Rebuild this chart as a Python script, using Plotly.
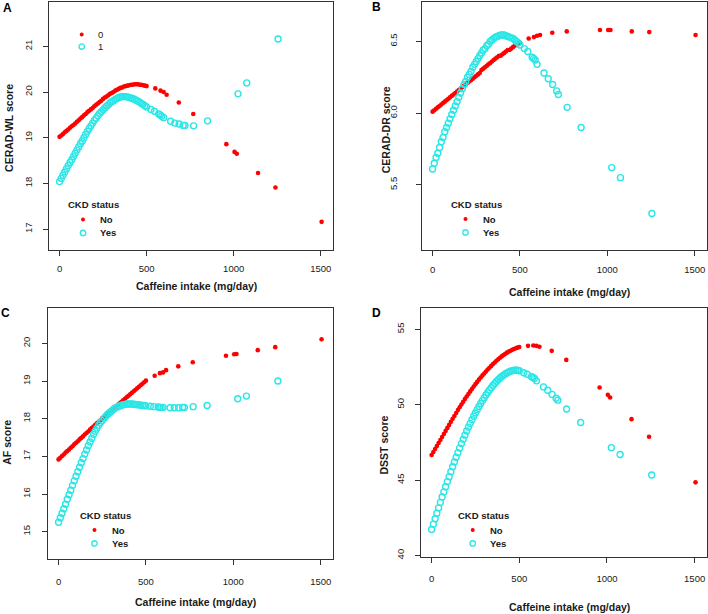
import plotly.graph_objects as go

W, H = 708, 614

# ---------------- data ----------------
dense_x = [0, 10, 20, 30, 40, 50, 60, 70, 80, 90, 100, 110, 120, 130, 140, 150, 160, 170, 180, 190,
           200, 210, 220, 230, 240, 250, 260, 270, 280, 290, 300, 310, 320, 330, 340, 350, 360, 370, 380, 390,
           400, 410, 420, 430, 440, 450, 460, 470, 480, 490, 500]
red_sparse_x = [550, 580, 598, 615, 685, 768, 958, 1005, 1018, 1140, 1240, 1505]
cyan_sparse_x = [525, 545, 570, 578, 587, 598, 638, 662, 687, 710, 720, 770, 850, 1025, 1075, 1255]

# Panel A: CERAD-WL
a_no_dense = [19.02, 19.05, 19.08, 19.12, 19.15, 19.18, 19.22, 19.25, 19.28, 19.31, 19.35, 19.38, 19.42, 19.45,
              19.49, 19.52, 19.56, 19.59, 19.62, 19.65, 19.69, 19.72, 19.75, 19.78, 19.81, 19.85, 19.88, 19.90,
              19.93, 19.96, 19.98, 20.00, 20.03, 20.05, 20.07, 20.09, 20.10, 20.12, 20.13, 20.14, 20.15, 20.16,
              20.16, 20.17, 20.17, 20.17, 20.16, 20.16, 20.15, 20.14, 20.13]
a_no_sparse = [20.08, 20.03, 20.00, 19.94, 19.77, 19.52, 18.86, 18.69, 18.65, 18.23, 17.91, 17.16]
a_yes_dense = [18.04, 18.11, 18.18, 18.25, 18.32, 18.39, 18.46, 18.52, 18.59, 18.66, 18.73, 18.80, 18.87, 18.93,
               19.00, 19.07, 19.14, 19.20, 19.26, 19.32, 19.38, 19.43, 19.48, 19.53, 19.57, 19.61, 19.65, 19.69,
               19.72, 19.76, 19.79, 19.81, 19.84, 19.86, 19.88, 19.89, 19.90, 19.90, 19.90, 19.89, 19.88, 19.87,
               19.86, 19.84, 19.82, 19.80, 19.78, 19.75, 19.73, 19.70, 19.67]
a_yes_sparse = [19.62, 19.58, 19.52, 19.50, 19.47, 19.44, 19.36, 19.32, 19.30, 19.27, 19.27, 19.26, 19.37,
                19.96, 20.20, 21.16]

# Panel B: CERAD-DR
b_no_dense = [6.01, 6.02, 6.03, 6.04, 6.05, 6.06, 6.07, 6.08, 6.09, 6.10, 6.11, 6.12, 6.13, 6.14, 6.15, 6.16,
              6.17, 6.18, 6.19, 6.20, 6.21, 6.22, 6.23, 6.24, 6.25, 6.26, 6.27, 6.28, 6.30, 6.31, 6.32, 6.33,
              6.34, 6.35, 6.36, 6.37, 6.38, 6.39, 6.40, 6.40, 6.41, 6.42, 6.43, 6.44, 6.44, 6.45, 6.46, 6.47,
              6.48, 6.48, 6.49]
b_no_sparse = [6.52, 6.53, 6.54, 6.545, 6.56, 6.57, 6.58, 6.58, 6.58, 6.57, 6.565, 6.545]
b_yes_dense = [5.61, 5.65, 5.69, 5.72, 5.76, 5.80, 5.83, 5.87, 5.90, 5.93, 5.96, 5.99, 6.02, 6.05, 6.08, 6.11,
               6.14, 6.17, 6.20, 6.22, 6.25, 6.27, 6.29, 6.32, 6.34, 6.36, 6.38, 6.40, 6.42, 6.44, 6.45, 6.47,
               6.48, 6.50, 6.51, 6.52, 6.53, 6.535, 6.54, 6.545, 6.545, 6.545, 6.54, 6.535, 6.53, 6.525, 6.52,
               6.51, 6.50, 6.49, 6.475]
b_yes_sparse = [6.45, 6.43, 6.39, 6.38, 6.37, 6.34, 6.28, 6.24, 6.20, 6.155, 6.13, 6.04, 5.90, 5.62, 5.55, 5.30]

# Panel C: AF
c_no_dense = [16.92, 16.96, 17.01, 17.05, 17.10, 17.14, 17.18, 17.23, 17.27, 17.32, 17.36, 17.40, 17.45, 17.49,
              17.53, 17.58, 17.62, 17.66, 17.71, 17.75, 17.79, 17.84, 17.88, 17.92, 17.96, 18.01, 18.05, 18.09,
              18.13, 18.17, 18.21, 18.25, 18.29, 18.33, 18.37, 18.41, 18.45, 18.49, 18.53, 18.57, 18.61, 18.65,
              18.69, 18.73, 18.77, 18.81, 18.85, 18.89, 18.93, 18.97, 19.01]
c_no_sparse = [19.14, 19.21, 19.23, 19.29, 19.39, 19.50, 19.67, 19.71, 19.72, 19.82, 19.90, 20.11]
c_yes_dense = [15.25, 15.37, 15.49, 15.61, 15.73, 15.86, 15.98, 16.10, 16.23, 16.35, 16.47, 16.59, 16.71, 16.83,
               16.94, 17.06, 17.17, 17.28, 17.38, 17.48, 17.58, 17.67, 17.75, 17.83, 17.90, 17.95, 18.01, 18.06,
               18.11, 18.15, 18.19, 18.23, 18.27, 18.30, 18.32, 18.34, 18.36, 18.37, 18.38, 18.39, 18.39, 18.39,
               18.39, 18.385, 18.38, 18.37, 18.37, 18.36, 18.35, 18.35, 18.34]
c_yes_sparse = [18.33, 18.32, 18.31, 18.30, 18.30, 18.30, 18.29, 18.29, 18.29, 18.30, 18.30, 18.32, 18.35,
                18.53, 18.60, 19.00]

# Panel D: DSST
d_no_dense = [46.66, 46.86, 47.06, 47.26, 47.46, 47.66, 47.86, 48.06, 48.26, 48.46, 48.66, 48.86, 49.06, 49.25,
              49.45, 49.64, 49.83, 50.01, 50.19, 50.37, 50.54, 50.71, 50.88, 51.04, 51.20, 51.36, 51.51, 51.66,
              51.80, 51.94, 52.07, 52.20, 52.33, 52.45, 52.57, 52.69, 52.80, 52.91, 53.01, 53.11, 53.20, 53.29,
              53.37, 53.45, 53.52, 53.58, 53.64, 53.69, 53.74, 53.78, 53.82]
d_no_sparse = [53.90, 53.92, 53.90, 53.84, 53.57, 52.97, 51.14, 50.65, 50.48, 49.04, 47.87, 44.85]
d_yes_dense = [41.72, 42.08, 42.44, 42.80, 43.16, 43.52, 43.88, 44.22, 44.56, 44.90, 45.23, 45.56, 45.88, 46.20,
               46.51, 46.82, 47.12, 47.42, 47.70, 47.98, 48.25, 48.51, 48.76, 49.00, 49.23, 49.45, 49.67, 49.88,
               50.08, 50.27, 50.46, 50.64, 50.81, 50.97, 51.12, 51.27, 51.41, 51.54, 51.66, 51.77, 51.87, 51.96,
               52.04, 52.11, 52.17, 52.22, 52.26, 52.28, 52.29, 52.28, 52.25]
d_yes_sparse = [52.12, 52.02, 51.85, 51.80, 51.74, 51.58, 51.18, 50.96, 50.68, 50.43, 50.30, 49.71, 48.82,
                47.15, 46.70, 45.34]

y_titles = ["CERAD-WL score", "CERAD-DR score", "AF score", "DSST score"]
panel_letters = ["A", "B", "C", "D"]
x_title = "Caffeine intake (mg/day)"
x_tickvals = [0, 500, 1000, 1500]
y_tickvals = [[17, 18, 19, 20, 21], [5.5, 6.0, 6.5], [15, 16, 17, 18, 19, 20], [40, 45, 50, 55]]
y_ticktext = [["17", "18", "19", "20", "21"], ["5.5", "6.0", "6.5"],
              ["15", "16", "17", "18", "19", "20"], ["40", "45", "50", "55"]]
legend_title = "CKD status"
legend_labels = ["No", "Yes"]
inner_labels = ["0", "1"]

# ---------------- styling / layout ----------------
RED = "#FF0000"
CYAN = "#2BE6E6"
FONT = "Arial, Liberation Sans, sans-serif"
TXT = "#1a1a1a"

# plot boxes in pixels (left, top, right, bottom)
boxes = [(49, 2, 333, 251), (422, 2, 707, 251), (48, 309, 333, 561), (421, 309, 707, 559)]
x_range = [-60.4, 1570.4]
y_ranges = [[16.54, 21.97], [5.044, 6.775], [14.27, 20.94], [39.89, 56.41]]

no_dense = [a_no_dense, b_no_dense, c_no_dense, d_no_dense]
no_sparse = [a_no_sparse, b_no_sparse, c_no_sparse, d_no_sparse]
yes_dense = [a_yes_dense, b_yes_dense, c_yes_dense, d_yes_dense]
yes_sparse = [a_yes_sparse, b_yes_sparse, c_yes_sparse, d_yes_sparse]

fig = go.Figure()
layout = dict(width=W, height=H, autosize=False, margin=dict(l=0, r=0, t=0, b=0),
              paper_bgcolor="white", plot_bgcolor="white", showlegend=False,
              font=dict(family=FONT, color=TXT, size=10))


def px(x):
    return x / W


def py(y):
    return 1 - y / H


annotations = []
shapes = []

extras = [
    dict(ytitle=(8.3, 128), xtitle_y=286.7, letter=(7, 8), leg=(66, 205.5), standoff_y=7, standoff_x=4),
    dict(ytitle=(385.7, 130), xtitle_y=292.7, letter=(376, 7), leg=(448.5, 205), standoff_y=15, standoff_x=5),
    dict(ytitle=(7.5, 443.7), xtitle_y=603.7, letter=(5.5, 314), leg=(77.5, 517), standoff_y=8, standoff_x=8),
    dict(ytitle=(384, 447), xtitle_y=608.5, letter=(376, 314), leg=(455.7, 517), standoff_y=7, standoff_x=7),
]

for i in range(4):
    n = "" if i == 0 else str(i + 1)
    xa, ya = "x" + n, "y" + n
    l, t, r, b = boxes[i]
    e = extras[i]
    layout["xaxis" + n] = dict(domain=[px(l), px(r)], range=x_range, anchor=ya,
                               showline=True, mirror=True, linecolor="#333", linewidth=1,
                               ticks="outside", ticklen=5, tickcolor="#333", tickwidth=1,
                               tickvals=x_tickvals, showgrid=False, zeroline=False,
                               tickfont=dict(size=9.5, family=FONT, color=TXT),
                               ticklabelstandoff=e["standoff_x"])
    layout["yaxis" + n] = dict(domain=[py(b), py(t)], range=y_ranges[i], anchor=xa,
                               showline=True, mirror=True, linecolor="#333", linewidth=1,
                               ticks="outside", ticklen=5, tickcolor="#333", tickwidth=1,
                               tickvals=y_tickvals[i], ticktext=y_ticktext[i], tickangle=-90,
                               showgrid=False, zeroline=False,
                               tickfont=dict(size=9.5, family=FONT, color=TXT),
                               ticklabelstandoff=e["standoff_y"])

    fig.add_trace(go.Scatter(x=dense_x + red_sparse_x, y=no_dense[i] + no_sparse[i], mode="markers",
                             xaxis=xa, yaxis=ya, name="No", cliponaxis=False,
                             marker=dict(color=RED, size=4.6, line=dict(width=0))))
    fig.add_trace(go.Scatter(x=dense_x + cyan_sparse_x, y=yes_dense[i] + yes_sparse[i], mode="markers",
                             xaxis=xa, yaxis=ya, name="Yes", cliponaxis=False,
                             marker=dict(color=CYAN, size=6, symbol="circle-open", line=dict(width=1.4))))

    annotations.append(dict(text="<b>" + x_title + "</b>", xref="paper", yref="paper",
                            x=px((l + r) / 2 + 5), y=py(e["xtitle_y"]), xanchor="center", yanchor="middle",
                            showarrow=False, font=dict(size=10.5, family=FONT, color=TXT)))
    annotations.append(dict(text="<b>" + y_titles[i] + "</b>", xref="paper", yref="paper",
                            x=px(e["ytitle"][0]), y=py(e["ytitle"][1]), xanchor="center", yanchor="middle",
                            textangle=-90, showarrow=False, font=dict(size=10.5, family=FONT, color=TXT)))
    annotations.append(dict(text="<b>" + panel_letters[i] + "</b>", xref="paper", yref="paper",
                            x=px(e["letter"][0]), y=py(e["letter"][1]), xanchor="center", yanchor="middle",
                            showarrow=False, font=dict(size=12, family=FONT, color="#000")))

    lx, ly = e["leg"]
    annotations.append(dict(text="<b>" + legend_title + "</b>", xref="paper", yref="paper",
                            x=px(lx), y=py(ly), xanchor="left", yanchor="middle",
                            showarrow=False, font=dict(size=9.5, family=FONT, color=TXT)))
    sx = lx + 17
    for k, lab in enumerate(legend_labels):
        yy = ly + 14.8 + 13.4 * k
        annotations.append(dict(text="<b>" + lab + "</b>", xref="paper", yref="paper",
                                x=px(lx + 32), y=py(yy), xanchor="left", yanchor="middle",
                                showarrow=False, font=dict(size=9.5, family=FONT, color=TXT)))
        if k == 0:
            rr = 2.0
            shapes.append(dict(type="circle", xref="paper", yref="paper",
                               x0=px(sx - rr), x1=px(sx + rr), y0=py(yy + rr), y1=py(yy - rr),
                               fillcolor=RED, line=dict(width=0)))
        else:
            rr = 2.7
            shapes.append(dict(type="circle", xref="paper", yref="paper",
                               x0=px(sx - rr), x1=px(sx + rr), y0=py(yy + rr), y1=py(yy - rr),
                               fillcolor="rgba(0,0,0,0)", line=dict(width=1.3, color=CYAN)))

for k, lab in enumerate(inner_labels):
    yy = 34.7 + 12 * k
    annotations.append(dict(text=lab, xref="paper", yref="paper", x=px(96), y=py(yy),
                            xanchor="left", yanchor="middle", showarrow=False,
                            font=dict(size=9.5, family=FONT, color=TXT)))
    if k == 0:
        rr = 2.0
        shapes.append(dict(type="circle", xref="paper", yref="paper",
                           x0=px(81.7 - rr), x1=px(81.7 + rr), y0=py(yy + rr), y1=py(yy - rr),
                           fillcolor=RED, line=dict(width=0)))
    else:
        rr = 2.7
        shapes.append(dict(type="circle", xref="paper", yref="paper",
                           x0=px(81.7 - rr), x1=px(81.7 + rr), y0=py(yy + rr), y1=py(yy - rr),
                           fillcolor="rgba(0,0,0,0)", line=dict(width=1.3, color=CYAN)))

layout["annotations"] = annotations
layout["shapes"] = shapes
fig.update_layout(**layout)
fig.write_html("out.html",
               config={"displayModeBar": False, "staticPlot": True},
               post_script="document.body.style.margin='0';document.body.style.padding='0';"
                           "document.body.style.overflow='hidden';")
